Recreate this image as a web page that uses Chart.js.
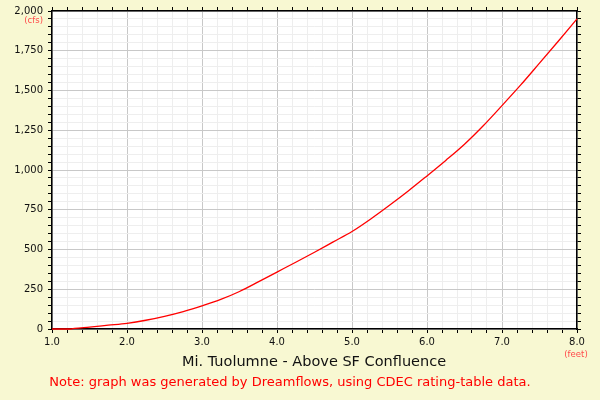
<!DOCTYPE html>
<html>
<head>
<meta charset="utf-8">
<script src="https://cdn.jsdelivr.net/npm/chart.js@4.4.1/dist/chart.umd.min.js"></script>
<style>
  html, body { margin: 0; padding: 0; background: #f8f8d2; }
  #wrap { width: 600px; height: 400px; position: relative; }
</style>
</head>
<body>
<div id="wrap"><canvas id="c" width="600" height="400"></canvas></div>
<script>
// Stage (feet) and discharge (cfs)
const stageFeet = [1.0, 1.25, 1.3, 1.5, 1.75, 2.0, 2.25, 2.5, 2.75, 3.0, 3.25, 3.5, 3.75, 4.0, 4.25, 4.5, 4.75, 5.0, 5.25, 5.5, 5.75, 6.0, 6.25, 6.5, 6.75, 7.0, 7.25, 7.5, 7.75, 8.0];
const flowCfs   = [0, 0, 4, 12, 24, 36, 55, 80, 110, 146, 186, 236, 296, 358, 420, 483, 548, 613, 692, 778, 868, 963, 1060, 1162, 1278, 1405, 1535, 1672, 1810, 1950];

const chartTitle = 'Mi. Tuolumne - Above SF Confluence';
const noteText = 'Note: graph was generated by Dreamflows, using CDEC rating-table data.';
const yUnit = '(cfs)';
const xUnit = '(feet)';

const MAJOR_GRID = '#c8c8c8';
const MINOR_GRID = '#eeeeee';

const points = stageFeet.map((x, i) => ({ x: x, y: flowCfs[i] }));

const bgPlugin = {
  id: 'bg',
  beforeDraw(chart) {
    const ctx = chart.ctx;
    ctx.save();
    ctx.fillStyle = '#f8f8d2';
    ctx.fillRect(0, 0, chart.width, chart.height);
    const a = chart.chartArea;
    ctx.fillStyle = '#ffffff';
    ctx.fillRect(a.left, a.top, a.right - a.left, a.bottom - a.top);
    ctx.restore();
  },
  afterDraw(chart) {
    const ctx = chart.ctx;
    const a = chart.chartArea;
    ctx.save();
    ctx.textBaseline = 'middle';
    ctx.fillStyle = '#ff4a4a';
    ctx.font = '8.5px "DejaVu Sans"';
    ctx.textAlign = 'right';
    ctx.fillText(yUnit, a.left - 9, 21);
    ctx.textAlign = 'center';
    ctx.fillText(xUnit, a.right - 1, 355);
    ctx.fillStyle = '#111111';
    ctx.font = '14.5px "DejaVu Sans"';
    ctx.fillText(chartTitle, 314, 362);
    ctx.fillStyle = '#ff0000';
    ctx.font = '13px "DejaVu Sans"';
    ctx.fillText(noteText, 290, 383);
    ctx.restore();
  }
};

const isMajorX = v => Math.abs(v - Math.round(v)) < 1e-6;
const isMajorY = v => Math.abs(v % 250) < 1e-6;

Chart.defaults.font.family = '"DejaVu Sans", sans-serif';

new Chart(document.getElementById('c'), {
  type: 'line',
  data: {
    datasets: [{
      data: points,
      borderColor: '#ff0000',
      borderWidth: 1.3,
      pointRadius: 0,
      fill: false,
      cubicInterpolationMode: 'monotone',
      clip: false
    }]
  },
  options: {
    responsive: false,
    animation: false,
    devicePixelRatio: 1,
    layout: { padding: 0 },
    plugins: { legend: { display: false }, tooltip: { enabled: false } },
    scales: {
      x: {
        type: 'linear', position: 'bottom', min: 1, max: 8,
        afterFit: s => { s.height = 71; },
        border: { display: true, color: '#000', width: 1.5 },
        grid: {
          color: c => isMajorX(c.tick.value) ? MAJOR_GRID : MINOR_GRID,
          tickColor: '#000', tickLength: 4, drawTicks: true
        },
        ticks: {
          stepSize: 0.2, autoSkip: false, maxRotation: 0, padding: 3,
          color: '#111', font: { size: 10 },
          callback: v => isMajorX(v) ? v.toFixed(1) : ''
        }
      },
      x2: {
        type: 'linear', position: 'top', min: 1, max: 8,
        afterFit: s => { s.height = 9; },
        border: { display: true, color: '#000', width: 1.5 },
        grid: { drawOnChartArea: false, tickColor: '#000', tickLength: 4 },
        ticks: { stepSize: 0.2, autoSkip: false, display: false }
      },
      y: {
        type: 'linear', position: 'left', min: 0, max: 2000,
        afterFit: s => { s.width = 52; },
        border: { display: true, color: '#000', width: 1.5 },
        grid: {
          color: c => isMajorY(c.tick.value) ? MAJOR_GRID : MINOR_GRID,
          tickColor: '#000', tickLength: 4
        },
        ticks: {
          stepSize: 50, autoSkip: false, padding: 5,
          color: '#111', font: { size: 10 },
          callback: v => isMajorY(v) ? v.toLocaleString('en-US') : ''
        }
      },
      y2: {
        type: 'linear', position: 'right', min: 0, max: 2000,
        afterFit: s => { s.width = 23; },
        border: { display: true, color: '#000', width: 1.5 },
        grid: { drawOnChartArea: false, tickColor: '#000', tickLength: 4 },
        ticks: { stepSize: 50, autoSkip: false, display: false }
      }
    }
  },
  plugins: [bgPlugin]
});
</script>
</body>
</html>
